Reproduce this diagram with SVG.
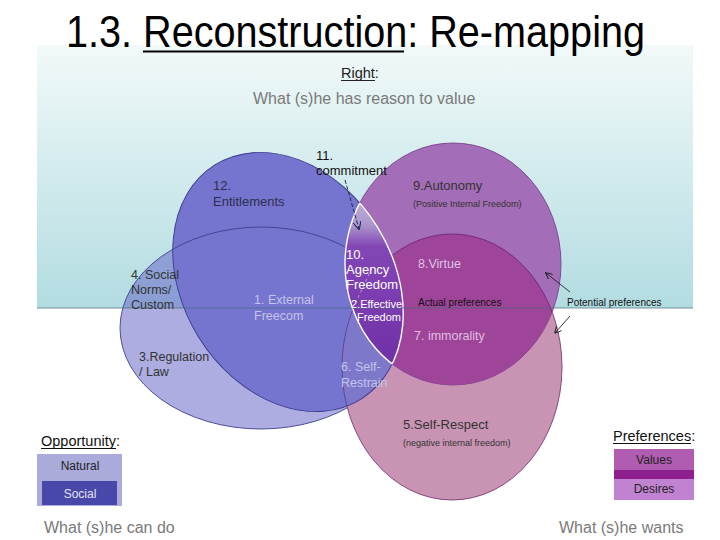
<svg xmlns="http://www.w3.org/2000/svg" width="720" height="540" viewBox="0 0 720 540">
<defs>
<linearGradient id="bg" x1="0" y1="45" x2="0" y2="308" gradientUnits="userSpaceOnUse">
<stop offset="0" stop-color="#f2f9f9"/>
<stop offset="1" stop-color="#b2dce1"/>
</linearGradient>
<linearGradient id="lensg" x1="0" y1="205" x2="0" y2="370" gradientUnits="userSpaceOnUse">
<stop offset="0" stop-color="#b9abd4"/>
<stop offset="0.12" stop-color="#ab96cc"/>
<stop offset="0.25" stop-color="#8346b6"/>
<stop offset="1" stop-color="#6f2fa6"/>
</linearGradient>
<clipPath id="clipBlue"><ellipse cx="288" cy="282" rx="138" ry="105" transform="rotate(58 288 282)"/></clipPath>
<clipPath id="clipPurple"><ellipse cx="453" cy="264" rx="108" ry="121"/></clipPath>
<clipPath id="clipPink"><ellipse cx="452" cy="367" rx="110" ry="133"/></clipPath>
<marker id="arr" viewBox="0 0 10 10" refX="9" refY="5" markerWidth="7" markerHeight="7" orient="auto" markerUnits="userSpaceOnUse">
<path d="M0,0 L10,5 L0,10" fill="none" stroke="#222" stroke-width="1.4"/>
</marker>
<marker id="arrN" viewBox="0 0 10 10" refX="9" refY="5" markerWidth="8" markerHeight="8" orient="auto" markerUnits="userSpaceOnUse">
<path d="M0,0 L10,5 L0,10" fill="none" stroke="#1e2a5a" stroke-width="1.4"/>
</marker>
</defs>
<style>
text{font-family:"Liberation Sans",Arial,sans-serif}
.lbl{font-size:12.5px;fill:#333}
.lt{font-size:12.5px;fill:#c4c4ec}
.wh{fill:#ffffff}
.sm{font-size:9px;fill:#333}
.ed{fill:none;stroke-width:0.9}
.grey{font-size:16px;fill:#7a7a7a}
</style>
<rect x="37" y="45" width="656" height="263" fill="url(#bg)"/>
<text x="66" y="47" font-size="44" textLength="579" lengthAdjust="spacingAndGlyphs" fill="#000">1.3. Reconstruction: Re-mapping</text>
<line x1="143" y1="51.5" x2="404" y2="51.5" stroke="#000" stroke-width="2.2"/>
<text x="341" y="78" font-size="14.5" fill="#222">Right:</text>
<line x1="341" y1="80.5" x2="375" y2="80.5" stroke="#222" stroke-width="1"/>
<text x="253" y="104" class="grey">What (s)he has reason to value</text>

<g id="ellipses">
<g id="node-social-norms">
<ellipse cx="261" cy="328" rx="141" ry="101" fill="#6a6ac8" fill-opacity="0.55" stroke="#3e3e8e" stroke-width="0.9"/>
</g>
<g id="node-self-respect">
<ellipse cx="452" cy="367" rx="110" ry="133" fill="#c994b4" stroke="#7e3a78" stroke-width="0.9"/>
</g>
<g id="node-autonomy">
<ellipse cx="453" cy="264" rx="108" ry="121" fill="#a36db7" stroke="#7a3f8c" stroke-width="0.9"/>
</g>
<g id="node-virtue">
<ellipse cx="453" cy="264" rx="108" ry="121" fill="#9e4499" clip-path="url(#clipPink)"/>
<ellipse cx="452" cy="367" rx="110" ry="133" class="ed" stroke="#6e2a70" clip-path="url(#clipPurple)"/>
</g>
<g id="node-entitlements">
<ellipse cx="288" cy="282" rx="138" ry="105" transform="rotate(58 288 282)" fill="#7575cf" stroke="#3a3a8e" stroke-width="0.9"/>
<ellipse cx="261" cy="328" rx="141" ry="101" class="ed" stroke="#3e3e8e" clip-path="url(#clipBlue)"/>
<ellipse cx="452" cy="367" rx="110" ry="133" fill="#c994b4" fill-opacity="0.12" stroke="#5a3a8a" stroke-width="0.8" clip-path="url(#clipBlue)"/>
</g>
<g id="node-agency">
<ellipse cx="453" cy="264" rx="108" ry="121" fill="url(#lensg)" clip-path="url(#clipBlue)"/>
<ellipse cx="453" cy="264" rx="108" ry="121" fill="none" stroke="#ffffff" stroke-width="1.4" clip-path="url(#clipBlue)"/>
<g clip-path="url(#clipPurple)">
<ellipse cx="288" cy="282" rx="138" ry="105" transform="rotate(58 288 282)" fill="none" stroke="#ffffff" stroke-width="1.4"/>
</g>
</g>
</g>

<line x1="37" y1="308" x2="693" y2="308" stroke="#4a6a7a" stroke-opacity="0.7" stroke-width="1"/>

<g id="connectors">
<line x1="345" y1="180" x2="359" y2="229" stroke="#1e2a5a" stroke-width="1" stroke-dasharray="4,2" marker-end="url(#arrN)"/>
<line x1="372" y1="268" x2="356" y2="302" stroke="#ffffff" stroke-opacity="0.6" stroke-width="0.8" stroke-dasharray="3,3"/>
<line x1="570" y1="292" x2="546" y2="273" stroke="#222" stroke-width="0.9" marker-end="url(#arr)"/>
<line x1="570" y1="316" x2="555" y2="333" stroke="#222" stroke-width="0.9" marker-end="url(#arr)"/>
</g>

<g id="labels">
<text x="213" y="190" font-size="13" fill="#2e2e4e">12.</text>
<text x="213" y="206" font-size="13" fill="#2e2e4e">Entitlements</text>
<text x="316" y="160" font-size="13" fill="#111">11.</text>
<text x="316" y="175" font-size="13" fill="#111">commitment</text>
<text x="413" y="190" font-size="13" fill="#333">9.Autonomy</text>
<text x="413" y="207" class="sm">(Positive Internal Freedom)</text>
<text x="346" y="259" font-size="13" class="wh">10.</text>
<text x="346" y="274" font-size="13" class="wh">Agency</text>
<text x="346" y="289" font-size="13" class="wh">Freedom</text>
<text x="351" y="308" font-size="11" class="wh">2.Effective</text>
<text x="357" y="321" font-size="11" class="wh">Freedom</text>
<text x="418" y="268" font-size="12.5" fill="#dcc4e6">8.Virtue</text>
<text x="418" y="306" font-size="10" fill="#111">Actual preferences</text>
<text x="567" y="306" font-size="10" fill="#111">Potential preferences</text>
<text x="414" y="340" font-size="12.5" fill="#e0bfe0">7. immorality</text>
<text x="131" y="279" class="lbl">4. Social</text>
<text x="131" y="294" class="lbl">Norms/</text>
<text x="131" y="309" class="lbl">Custom</text>
<text x="254" y="304" class="lt">1. External</text>
<text x="254" y="320" class="lt">Freecom</text>
<text x="139" y="361" class="lbl">3.Regulation</text>
<text x="139" y="376" class="lbl">/ Law</text>
<text x="341" y="371" class="lt">6. Self-</text>
<text x="341" y="387" class="lt">Restrain</text>
<text x="403" y="429" font-size="13" fill="#333">5.Self-Respect</text>
<text x="403" y="446" class="sm">(negative internal freedom)</text>
</g>

<g id="legend-opportunity">
<text x="41" y="446" font-size="14.5" fill="#111">Opportunity:</text>
<line x1="41" y1="448.5" x2="116" y2="448.5" stroke="#111" stroke-width="1"/>
<rect x="37" y="454" width="85" height="52" fill="#aaaadb"/>
<rect x="42" y="481" width="75" height="24" fill="#4848aa"/>
<text x="80" y="470" font-size="12" fill="#222" text-anchor="middle">Natural</text>
<text x="80" y="498" font-size="12" fill="#e4e4f4" text-anchor="middle">Social</text>
<text x="44" y="533" class="grey">What (s)he can do</text>
</g>

<g id="legend-preferences">
<text x="613" y="441" font-size="14.5" fill="#111">Preferences:</text>
<line x1="613" y1="443.5" x2="691" y2="443.5" stroke="#111" stroke-width="1"/>
<rect x="614" y="449" width="80" height="21" fill="#b05cb0"/>
<rect x="614" y="470" width="80" height="9" fill="#8e1f8e"/>
<rect x="614" y="479" width="80" height="21" fill="#c282d2"/>
<text x="654" y="464" font-size="12" fill="#222" text-anchor="middle">Values</text>
<text x="654" y="493" font-size="12" fill="#222" text-anchor="middle">Desires</text>
<text x="559" y="533" class="grey">What (s)he wants</text>
</g>
</svg>
